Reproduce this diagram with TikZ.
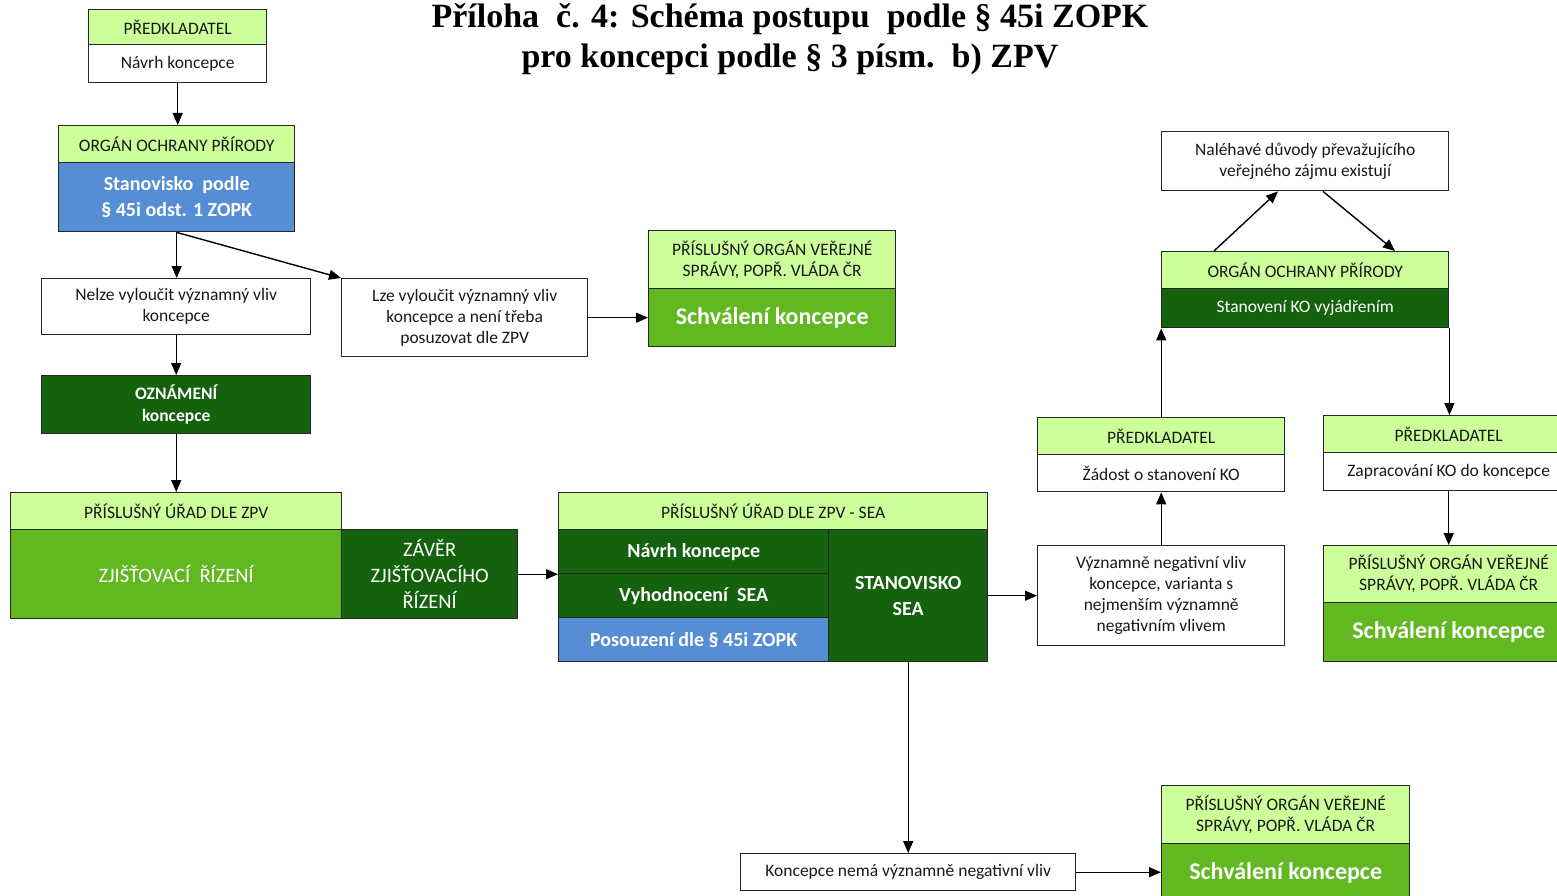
\documentclass[tikz,border=0pt]{standalone}
\usepackage{fontspec}
\setmainfont{Carlito}
\newfontfamily\titlefont{Liberation Serif}
\usetikzlibrary{arrows.meta,calc}
\definecolor{hdrg}{RGB}{204,255,153}
\definecolor{mdg}{RGB}{98,184,32}
\definecolor{dkg}{RGB}{20,98,14}
\definecolor{boxblue}{RGB}{85,142,213}
\tikzset{
 base/.style={draw=black!85, line width=1.4pt, anchor=north west, align=center, inner sep=2pt,
   font=\fontsize{17.5}{21}\selectfont, text=black!90},
 hdr/.style={base, fill=hdrg},
 wbox/.style={base, fill=white},
 blu/.style={base, fill=boxblue, text=white, font=\fontsize{20}{26}\selectfont\bfseries},
 dg/.style={base, fill=dkg, text=white},
 mg/.style={base, fill=mdg, text=white},
 big/.style={font=\fontsize{24}{28}\selectfont\bfseries},
 mid/.style={font=\fontsize{20.5}{26}\selectfont},
 midb/.style={font=\fontsize{20}{26}\selectfont\bfseries},
 arr/.style={draw=black, line width=1.4pt, -{Triangle[length=12pt,width=10pt]}},
 ln/.style={draw=black, line width=1.4pt},
}
\begin{document}
\begin{tikzpicture}[x=1pt,y=-1pt]
\useasboundingbox (0,0) rectangle (1557,896);
\clip (0,0) rectangle (1557,896);
\fill[white] (0,0) rectangle (1557,896);

% title
\node[align=center, inner sep=0pt, font=\titlefont\fontsize{34}{40}\selectfont\bfseries] (title) at (790,39)
 {Příloha\ \ č. 4: Schéma postupu\ \ podle § 45i ZOPK\\pro koncepci podle § 3 písm.\ \ b) ZPV};

% left column
\node[hdr, minimum width=178pt, minimum height=35pt] (A1) at (88,9) {PŘEDKLADATEL};
\node[wbox, minimum width=178pt, minimum height=38pt] (A2) at (88,44) {Návrh koncepce};
\node[hdr, minimum width=236pt, minimum height=37pt] (B1) at (58,125) {ORGÁN OCHRANY PŘÍRODY};
\node[blu, minimum width=236pt, minimum height=69pt] (B2) at (58,162) {Stanovisko\ \ podle\\§ 45i odst. 1 ZOPK};
\node[wbox, minimum width=269pt, minimum height=56pt] (C) at (41,278) {Nelze vyloučit významný vliv\\koncepce};
\node[wbox, minimum width=246pt, minimum height=78pt] (D) at (341,278) {Lze vyloučit významný vliv\\koncepce a není třeba\\posuzovat dle ZPV};
\node[hdr, minimum width=247pt, minimum height=58pt] (E1) at (648,230) {PŘÍSLUŠNÝ ORGÁN VEŘEJNÉ\\SPRÁVY, POPŘ. VLÁDA ČR};
\node[mg, big, minimum width=247pt, minimum height=58pt] (E2) at (648,288) {Schválení koncepce};
\node[dg, minimum width=269pt, minimum height=58pt, font=\fontsize{17.5}{22}\selectfont\bfseries] (F) at (41,375) {OZNÁMENÍ\\koncepce};
\node[hdr, minimum width=331pt, minimum height=37pt] (G1) at (10,492) {PŘÍSLUŠNÝ ÚŘAD DLE ZPV};
\node[mg, mid, minimum width=331pt, minimum height=89pt] (G2) at (10,529) {ZJIŠŤOVACÍ\ \ ŘÍZENÍ};
\node[dg, mid, minimum width=176pt, minimum height=89pt] (G3) at (341,529) {ZÁVĚR\\ZJIŠŤOVACÍHO\\ŘÍZENÍ};

% SEA block
\node[hdr, minimum width=429pt, minimum height=37pt] (H1) at (558,492) {PŘÍSLUŠNÝ ÚŘAD DLE ZPV - SEA};
\node[dg, midb, minimum width=270pt, minimum height=44pt] (H2) at (558,529) {Návrh koncepce};
\node[dg, midb, minimum width=270pt, minimum height=44pt] (H3) at (558,573) {Vyhodnocení\ \ SEA};
\node[blu, minimum width=270pt, minimum height=44pt] (H4) at (558,617) {Posouzení dle § 45i ZOPK};
\node[dg, midb, minimum width=159pt, minimum height=132pt] (H5) at (828,529) {STANOVISKO\\SEA};

% right part
\node[wbox, minimum width=247pt, minimum height=100pt] (I) at (1037,545) {Významně negativní vliv\\koncepce, varianta s\\nejmenším významně\\negativním vlivem};
\node[hdr, minimum width=247pt, minimum height=37pt] (J1) at (1037,417) {PŘEDKLADATEL};
\node[wbox, minimum width=247pt, minimum height=37pt] (J2) at (1037,454) {Žádost o stanovení KO};
\node[hdr, minimum width=287pt, minimum height=37pt] (K1) at (1161,251) {ORGÁN OCHRANY PŘÍRODY};
\node[dg, minimum width=287pt, minimum height=39pt] (K2) at (1161,288) {Stanovení KO vyjádřením};
\node[wbox, minimum width=287pt, minimum height=59pt] (L) at (1161,131) {Naléhavé důvody převažujícího\\veřejného zájmu existují};
\node[hdr, minimum width=250pt, minimum height=37pt] (M1) at (1323,415) {PŘEDKLADATEL};
\node[wbox, minimum width=250pt, minimum height=38pt] (M2) at (1323,452) {Zapracování KO do koncepce};
\node[hdr, minimum width=250pt, minimum height=57pt] (N1) at (1323,545) {PŘÍSLUŠNÝ ORGÁN VEŘEJNÉ\\SPRÁVY, POPŘ. VLÁDA ČR};
\node[mg, big, minimum width=250pt, minimum height=59pt] (N2) at (1323,602) {Schválení koncepce};

% bottom
\node[wbox, minimum width=335pt, minimum height=37pt] (O) at (740,853) {Koncepce nemá významně negativní vliv};
\node[hdr, minimum width=248pt, minimum height=58pt] (P1) at (1161,785) {PŘÍSLUŠNÝ ORGÁN VEŘEJNÉ\\SPRÁVY, POPŘ. VLÁDA ČR};
\node[mg, big, minimum width=248pt, minimum height=58pt] (P2) at (1161,843) {Schválení koncepce};

% connectors
\draw[arr] (A2.south) -- (A2.south |- B1.north);
\draw[arr] (B2.south) -- (B2.south |- C.north);
\draw[arr] (B2.south) -- (D.north west);
\draw[arr] (D.east) -- (D.east -| E2.west);
\draw[arr] (C.south) -- (C.south |- F.north);
\draw[arr] (F.south) -- (F.south |- G1.north);
\draw[arr] (G3.east) -- (G3.east -| H2.west);
\draw[arr] (H5.east) -- (H5.east -| I.west);
\draw[arr] (I.north) -- (I.north |- J2.south);
\draw[arr] (J1.north) -- (J1.north |- K2.south);
\draw[arr] ($(K1.north west)+(53,0)$) -- ($(L.south west)+(117,0)$);
\draw[arr] ($(L.south west)+(162,0)$) -- ($(K1.north west)+(234,0)$);
\draw[arr] (K2.south east) -- (K2.south east |- M1.north);
\draw[arr] (M2.south) -- (M2.south |- N1.north);
\draw[arr] (H5.south) -- (H5.south |- O.north);
\draw[arr] (O.east) -- (O.east -| P2.west);
\end{tikzpicture}
\end{document}
